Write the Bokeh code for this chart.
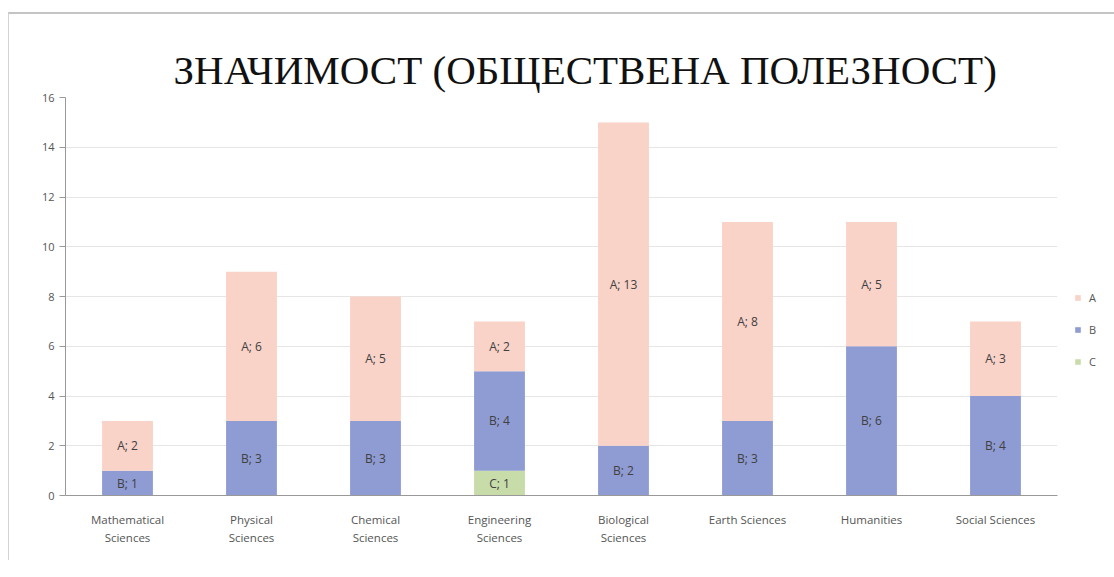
from bokeh.plotting import figure
from bokeh.models import ColumnDataSource, FactorRange, Range1d, Legend, LegendItem, LabelSet
from bokeh.layouts import row
from bokeh.embed import file_html
from bokeh.resources import INLINE
from bokeh.core.properties import value

categories = ["Mathematical\nSciences", "Physical\nSciences", "Chemical\nSciences", "Engineering\nSciences",
              "Biological\nSciences", "Earth Sciences", "Humanities", "Social Sciences"]
series_C = [0, 0, 0, 1, 0, 0, 0, 0]
series_B = [1, 3, 3, 4, 2, 3, 6, 4]
series_A = [2, 6, 5, 2, 13, 8, 5, 3]
y_ticks = [0, 2, 4, 6, 8, 10, 12, 14, 16]
legend_labels = ["A", "B", "C"]
title_text = "ЗНАЧИМОСТ (ОБЩЕСТВЕНА ПОЛЕЗНОСТ)"

colors = {"A": "#f9d2c8", "B": "#8f9bd3", "C": "#c8dcaa"}

source = ColumnDataSource(dict(cat=categories, C=series_C, B=series_B, A=series_A))

p = figure(width=1051, height=546, x_range=FactorRange(*categories, range_padding=0),
           y_range=Range1d(0, 16), output_backend="svg", toolbar_location=None,
           min_border_left=56, min_border_right=3, min_border_top=83, min_border_bottom=65)

rs = p.vbar_stack(["C", "B", "A"], x="cat", width=0.41, source=source,
                  color=[colors["C"], colors["B"], colors["A"]], line_color=None)

# data labels
lx, ly, lt = [], [], []
for i, c in enumerate(categories):
    base = 0
    for name, vals in (("C", series_C), ("B", series_B), ("A", series_A)):
        v = vals[i]
        if v:
            lx.append(c); ly.append(base + v / 2); lt.append(f"{name}; {v}")
        base += v
lsrc = ColumnDataSource(dict(x=lx, y=ly, t=lt))
p.add_layout(LabelSet(x="x", y="y", text="t", source=lsrc, text_align="center", text_baseline="middle",
                      text_font=value("Open Sans"), text_font_size="12px", text_color="#404040"))

p.title.text = title_text
p.title.align = "left"
p.title.text_font = "Liberation Serif"
p.title.text_font_size = "41px"
p.title.text_font_style = "normal"
p.title.text_color = "#111111"
p.title.offset = 108
p.title.standoff = 9

p.yaxis.ticker = y_ticks
p.yaxis.major_label_text_font = "Open Sans"
p.yaxis.major_label_text_font_size = "11px"
p.yaxis.major_label_text_color = "#555555"
p.yaxis.minor_tick_line_color = None
p.yaxis.major_tick_out = 6
p.yaxis.major_tick_in = 0
p.yaxis.axis_line_color = "#999999"
p.yaxis.major_tick_line_color = "#999999"

p.xaxis.major_label_text_font = "Open Sans"
p.xaxis.major_label_text_font_size = "11.5px"
p.xaxis.major_label_text_color = "#555555"
p.xaxis.major_tick_line_color = None
p.xaxis.axis_line_color = "#999999"
p.xaxis.major_label_standoff = 10

p.xgrid.grid_line_color = None
p.ygrid.grid_line_color = "#e6e6e6"
p.outline_line_color = None

# legend in a narrow side figure
p2 = figure(width=54, height=546, x_range=Range1d(0, 1), y_range=Range1d(0, 1),
            x_axis_location=None, y_axis_location=None, toolbar_location=None,
            output_backend="svg", min_border=0)
p2.grid.visible = False
p2.outline_line_color = None
items = []
for lab in legend_labels:
    r = p2.rect(x=[5], y=[5], width=0.1, height=0.1, color=colors[lab], line_color=None)
    items.append(LegendItem(label=lab, renderers=[r]))
legend = Legend(items=items, location=(14, 126), border_line_color=None, background_fill_alpha=0,
                label_text_font="Open Sans", label_text_font_size="11px", label_text_color="#555555",
                glyph_width=7, glyph_height=7, spacing=17, label_standoff=8, padding=4, margin=0)
p2.add_layout(legend, "center")

layout = row(p, p2, spacing=0)
layout.styles = {"margin-top": "12px", "margin-left": "8px",
                 "border-top": "2px solid #c4c4c4", "border-left": "1px solid #d4d4d4"}
open("out.html", "w").write(file_html(layout, INLINE))
